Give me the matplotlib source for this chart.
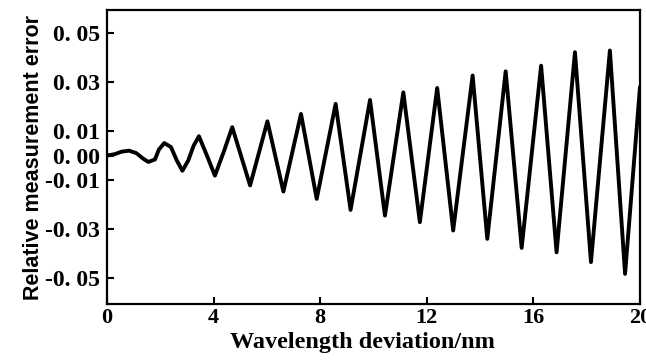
import matplotlib
matplotlib.use("Agg")
import matplotlib.pyplot as plt

# curve points (wavelength deviation in nm, relative error)
wavelength = [0.0, 0.3, 0.55, 0.83, 1.1, 1.35, 1.55, 1.8, 1.95, 2.15, 2.4, 2.62, 2.83,
              3.05, 3.25, 3.45, 3.75, 4.05, 4.38, 4.70, 5.37, 6.02, 6.62, 7.28, 7.87,
              8.58, 9.14, 9.87, 10.43, 11.12, 11.74, 12.39, 12.99, 13.72, 14.27,
              14.96, 15.56, 16.29, 16.87, 17.56, 18.16, 18.87, 19.44, 20.0]
rel_error = [0.0, 0.0006, 0.0016, 0.0020, 0.0010, -0.0012, -0.0026, -0.0016, 0.0025, 0.0051,
             0.0035, -0.0020, -0.0062, -0.0020, 0.0040, 0.0079, 0.0000, -0.0082, 0.0015,
             0.0116, -0.0122, 0.0140, -0.0147, 0.0170, -0.0177,
             0.0211, -0.0222, 0.0227, -0.0245, 0.0258, -0.0272, 0.0276, -0.0306,
             0.0327, -0.0340, 0.0344, -0.0377, 0.0367, -0.0395, 0.0422, -0.0435,
             0.0429, -0.0483, 0.0280]

x_ticks = [0, 4, 8, 12, 16, 20]
y_ticks = [0.05, 0.03, 0.01, 0.00, -0.01, -0.03, -0.05]
y_tick_labels = ["0. 05", "0. 03", "0. 01", "0. 00", "-0. 01", "-0. 03", "-0. 05"]

serif = ["Liberation Serif", "DejaVu Serif"]

fig = plt.figure(figsize=(6.46, 3.61), dpi=100)
ax = fig.add_axes([0.1656, 0.158, 0.8251, 0.814])

ax.plot(wavelength, rel_error, color="black", linewidth=2.8,
        solid_joinstyle="round", solid_capstyle="round")

ax.set_xlim(0, 20)
ax.set_ylim(-0.0606, 0.0594)

ax.set_xticks(x_ticks)
ax.set_xticklabels([str(t) for t in x_ticks], fontfamily=serif,
                   fontweight="bold", fontsize=16)
ax.set_yticks(y_ticks)
ax.set_yticklabels(y_tick_labels, fontfamily=serif, fontweight="bold", fontsize=17)

ax.tick_params(direction="in", length=5, width=1.5, top=False, right=False)
ax.tick_params(axis="y", pad=5)
ax.tick_params(axis="x", pad=3)

for side in ax.spines.values():
    side.set_linewidth(1.6)

ax.set_xlabel("Wavelength deviation/nm", fontfamily=serif, fontweight="bold",
              fontsize=17.5, labelpad=0)
ax.xaxis.set_label_coords(0.48, -0.095)
ax.set_ylabel("Relative measurement error", fontfamily=["Liberation Sans", "DejaVu Sans"],
              fontweight="bold", fontsize=15.5, labelpad=1)

fig.savefig("out.png", dpi=100)
